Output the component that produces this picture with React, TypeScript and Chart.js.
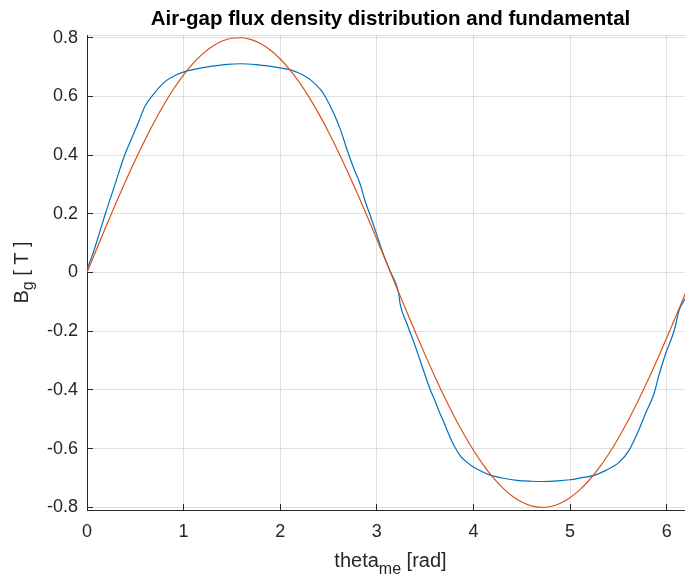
import React, { useEffect, useRef } from "react";
import { Chart, registerables } from "chart.js";

Chart.register(...registerables);

// Measured air-gap flux density (blue)
const thetaMeasured = [
  0, 0.05, 0.12, 0.19, 0.29, 0.39, 0.46, 0.53, 0.6, 0.7, 0.81, 0.91, 1.02, 1.12, 1.3, 1.45, 1.59, 1.75, 1.9, 2.0,
  2.1, 2.24, 2.33, 2.42, 2.47, 2.55, 2.62, 2.69, 2.76, 2.83, 2.88, 2.93, 3.0, 3.07, 3.14, 3.226, 3.24, 3.31, 3.4,
  3.47, 3.555, 3.6, 3.64, 3.7, 3.78, 3.83, 3.87, 3.93, 3.98, 4.05, 4.18, 4.3, 4.45, 4.6, 4.73, 4.87, 5.0, 5.12,
  5.25, 5.37, 5.51, 5.61, 5.71, 5.78, 5.87, 5.92, 5.99, 6.08, 6.13, 6.2, 6.2832,
];
const bMeasured = [
  0.012, 0.054, 0.125, 0.2, 0.3, 0.4, 0.455, 0.509, 0.566, 0.612, 0.651, 0.671, 0.685, 0.693, 0.703, 0.709, 0.711,
  0.708, 0.702, 0.697, 0.691, 0.672, 0.652, 0.622, 0.597, 0.545, 0.49, 0.42, 0.356, 0.299, 0.242, 0.196, 0.128,
  0.06, 0.003, -0.071, -0.105, -0.173, -0.253, -0.321, -0.401, -0.435, -0.469, -0.515, -0.577, -0.607, -0.627,
  -0.645, -0.658, -0.672, -0.691, -0.7, -0.708, -0.711, -0.712, -0.71, -0.706, -0.699, -0.691, -0.674, -0.646,
  -0.606, -0.538, -0.481, -0.412, -0.35, -0.276, -0.196, -0.128, -0.083, 0.0,
];

// Fundamental (orange)
const thetaFund = [
  0, 0.1, 0.2, 0.3, 0.4, 0.5, 0.6, 0.7, 0.8, 0.9, 1.0, 1.1, 1.2, 1.3, 1.4, 1.5, 1.6, 1.7, 1.8, 1.9, 2.0, 2.1, 2.2,
  2.3, 2.4, 2.5, 2.6, 2.7, 2.8, 2.9, 3.0, 3.1, 3.2, 3.3, 3.4, 3.5, 3.6, 3.7, 3.8, 3.9, 4.0, 4.1, 4.2, 4.3, 4.4,
  4.5, 4.6, 4.7, 4.8, 4.9, 5.0, 5.1, 5.2, 5.3, 5.4, 5.5, 5.6, 5.7, 5.8, 5.9, 6.0, 6.1, 6.2, 6.2832,
];
const bFund = [
  0, 0.0799, 0.1589, 0.2364, 0.3115, 0.3835, 0.4517, 0.5154, 0.5739, 0.6267, 0.6732, 0.713, 0.7456, 0.7708,
  0.7884, 0.798, 0.7997, 0.7933, 0.779, 0.757, 0.7274, 0.6906, 0.6468, 0.5966, 0.5404, 0.4788, 0.4124, 0.3419,
  0.268, 0.1913, 0.1129, 0.0333, -0.0467, -0.1262, -0.2044, -0.2806, -0.354, -0.4238, -0.4895, -0.5502, -0.6054,
  -0.6546, -0.6973, -0.733, -0.7613, -0.782, -0.795, -0.7999, -0.797, -0.786, -0.7671, -0.7406, -0.7068, -0.6658,
  -0.6182, -0.5644, -0.505, -0.4406, -0.3717, -0.2991, -0.2235, -0.1458, -0.0665, 0,
];

const xTicks = [0, 1, 2, 3, 4, 5, 6];
const yTicks = [-0.8, -0.6, -0.4, -0.2, 0, 0.2, 0.4, 0.6, 0.8];

const TITLE = "Air-gap flux density distribution and fundamental";
const X_LABEL = ["theta", "me", " [rad]"];
const Y_LABEL = ["B", "g", " [ T ]"];

const FONT = "'Liberation Sans', Arial, Helvetica, sans-serif";
const TEXT = "#262626";
const GRID = "rgba(38,38,38,0.14)";

const align = (p: number) => Math.round(p - 0.5) + 0.5;

const decor = {
  id: "decor",
  afterDraw(chart: any) {
    const { ctx, chartArea: a, scales } = chart;
    const xs = scales.x;
    const ys = scales.y;
    ctx.save();
    // top edge (light)
    ctx.strokeStyle = GRID;
    ctx.lineWidth = 1;
    ctx.beginPath();
    ctx.moveTo(a.left, align(a.top));
    ctx.lineTo(a.right, align(a.top));
    ctx.stroke();
    // inward ticks
    ctx.strokeStyle = TEXT;
    ctx.beginPath();
    xs.ticks.forEach((t: any) => {
      const px = align(xs.getPixelForValue(t.value));
      ctx.moveTo(px, a.bottom);
      ctx.lineTo(px, a.bottom - 6);
    });
    ys.ticks.forEach((t: any) => {
      const py = align(ys.getPixelForValue(t.value));
      ctx.moveTo(a.left, py);
      ctx.lineTo(a.left + 6, py);
    });
    ctx.stroke();

    const cx = (a.left + a.right) / 2;
    const cy = (a.top + a.bottom) / 2;
    ctx.fillStyle = "#000";
    // title
    ctx.font = `bold 20.5px ${FONT}`;
    ctx.textAlign = "center";
    ctx.textBaseline = "alphabetic";
    ctx.fillText(TITLE, cx, 25);

    ctx.fillStyle = TEXT;
    ctx.textAlign = "left";
    const mainF = `20px ${FONT}`;
    const subF = `16px ${FONT}`;
    const drawPieces = (pieces: string[], sx: number, by: number, subOff: number) => {
      const widths = pieces.map((p, i) => {
        ctx.font = i === 1 ? subF : mainF;
        return ctx.measureText(p).width;
      });
      const total = widths.reduce((s, w) => s + w, 0);
      let x = sx - total / 2;
      pieces.forEach((p, i) => {
        ctx.font = i === 1 ? subF : mainF;
        ctx.fillText(p, x, by + (i === 1 ? subOff : 0));
        x += widths[i];
      });
    };
    // x label
    drawPieces(X_LABEL, cx, 567, 7);
    // y label (rotated)
    ctx.save();
    ctx.translate(28, cy);
    ctx.rotate(-Math.PI / 2);
    drawPieces(Y_LABEL, 0, 0, 5);
    ctx.restore();

    ctx.restore();
  },
};

export default function App() {
  const ref = useRef<HTMLCanvasElement | null>(null);

  useEffect(() => {
    if (!ref.current) return;
    const chart = new Chart(ref.current, {
      type: "line",
      data: {
        datasets: [
          {
            label: "B_g",
            data: thetaMeasured.map((x, i) => ({ x, y: bMeasured[i] })),
            borderColor: "#0072BD",
            borderWidth: 1.2,
            pointRadius: 0,
            cubicInterpolationMode: "monotone",
            order: 2,
          },
          {
            label: "fundamental",
            data: thetaFund.map((x, i) => ({ x, y: bFund[i] })),
            borderColor: "#D95319",
            borderWidth: 1.2,
            pointRadius: 0,
            cubicInterpolationMode: "monotone",
            order: 1,
          },
        ],
      },
      options: {
        responsive: false,
        animation: false,
        devicePixelRatio: 1,
        layout: { padding: { left: 0, right: 6, top: 35, bottom: 0 } },
        plugins: {
          legend: { display: false },
          title: { display: false },
          tooltip: { enabled: false },
        },
        scales: {
          x: {
            type: "linear",
            min: 0,
            max: 6.2832,
            afterBuildTicks: (s: any) => {
              s.ticks = xTicks.map((v) => ({ value: v }));
            },
            afterFit: (s: any) => {
              s.height = 67;
            },
            grid: { color: GRID, drawTicks: false, lineWidth: 1 },
            border: { display: true, color: TEXT, width: 1 },
            ticks: {
              padding: 11,
              color: TEXT,
              font: { family: FONT, size: 18 },
              maxRotation: 0,
              autoSkip: false,
              callback: (v: any) => String(v),
            },
          },
          y: {
            type: "linear",
            min: -0.809,
            max: 0.809,
            afterBuildTicks: (s: any) => {
              s.ticks = yTicks.map((v) => ({ value: v }));
            },
            afterFit: (s: any) => {
              s.width = 87;
            },
            grid: { color: GRID, drawTicks: false, lineWidth: 1 },
            border: { display: true, color: TEXT, width: 1 },
            ticks: {
              padding: 9,
              color: TEXT,
              font: { family: FONT, size: 18 },
              autoSkip: false,
              callback: (v: any) => String(v),
            },
          },
        },
      },
      plugins: [decor],
    });
    return () => chart.destroy();
  }, []);

  return (
    <div
      style={{
        position: "fixed",
        left: 0,
        top: 0,
        width: 685,
        height: 577,
        overflow: "hidden",
        background: "#fff",
      }}
    >
      <canvas ref={ref} width={700} height={577} style={{ display: "block", width: 700, height: 577 }} />
    </div>
  );
}
